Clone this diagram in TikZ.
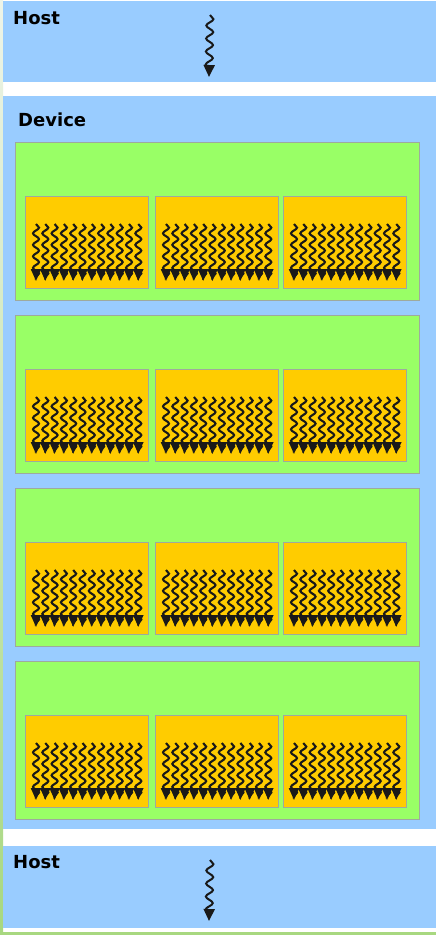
\documentclass[tikz,border=0pt]{standalone}
\usepackage{fontspec}
\setmainfont{DejaVu Sans}
\usetikzlibrary{arrows.meta,decorations.pathmorphing}
\definecolor{hostblue}{HTML}{99CCFF}
\definecolor{blockgreen}{HTML}{99FF66}
\definecolor{warporange}{HTML}{FFCC00}
\definecolor{edgegray}{HTML}{9EAA9E}
\definecolor{stripPale}{HTML}{EEF4E8}
\definecolor{stripGreen}{HTML}{A8D880}
\tikzset{
  bluebox/.style={fill=hostblue, draw=none, anchor=north west, inner sep=0pt},
  greenbox/.style={fill=blockgreen, draw=edgegray, line width=1.2pt, anchor=north west, inner sep=0pt,
    minimum width=404.5pt, minimum height=158pt},
  orangebox/.style={fill=warporange, draw=edgegray, line width=1pt, anchor=north west, inner sep=0pt,
    minimum width=123pt, minimum height=92pt},
  label/.style={anchor=base west, inner sep=0pt, font=\fontsize{18}{21}\selectfont\bfseries, text=black},
  hostwave/.style={line width=2pt, black!90, decorate,
    decoration={snake, amplitude=3.5pt, segment length=13pt, post length=3pt},
    -{Triangle[length=12pt,width=11pt]}},
  threadwave/.style={line width=2.1pt, black!90, decorate,
    decoration={snake, amplitude=3pt, segment length=11.5pt, post length=2pt},
    -{Triangle[length=12pt,width=10pt]}}
}
\begin{document}
\begin{tikzpicture}[x=1pt,y=-1pt]
\useasboundingbox (0,0) rectangle (436,935);
\fill[white] (0,0) rectangle (436,935);
\shade[top color=stripPale, bottom color=stripGreen] (0,0) rectangle (3,935);
\fill[stripGreen] (0,932) rectangle (436,935);
% hosts and device
\node[bluebox, minimum width=433pt, minimum height=81pt] (host1) at (3,1) {};
\node[bluebox, minimum width=433pt, minimum height=733pt] (device) at (3,96) {};
\node[bluebox, minimum width=433pt, minimum height=82pt] (host2) at (3,846) {};
\node[label] (host1lbl) at (13,24) {Host};
\node[label] (devlbl) at (18,126) {Device};
\node[label] (host2lbl) at (13,868) {Host};
% host threads
\coordinate (h1s) at (210,15);
\coordinate (h1e) at (209,77);
\draw[hostwave] (h1s) -- (h1e);
\coordinate (h2s) at (210,860);
\coordinate (h2e) at (209,921);
\draw[hostwave] (h2s) -- (h2e);
% blocks
\foreach \i in {1,...,4}{
  \pgfmathsetmacro{\T}{142+173*(\i-1)}
  \node[greenbox] (g\i) at (14.5,\T) {};
  \foreach \j/\xx in {1/25,2/155,3/283}{
    \node[orangebox] (b\i\j) at (\xx,\T+54) {};
    \begin{scope}[shift={(b\i\j.north west)}]
      \foreach \k in {0,...,11}{
        \pgfmathsetmacro{\tx}{11+9.3*\k}
        \coordinate (t\i\j\k s) at (\tx,28);
        \coordinate (t\i\j\k e) at (\tx,85);
        \draw[threadwave] (t\i\j\k s) -- (t\i\j\k e);
      }
    \end{scope}
  }
}
\end{tikzpicture}
\end{document}
